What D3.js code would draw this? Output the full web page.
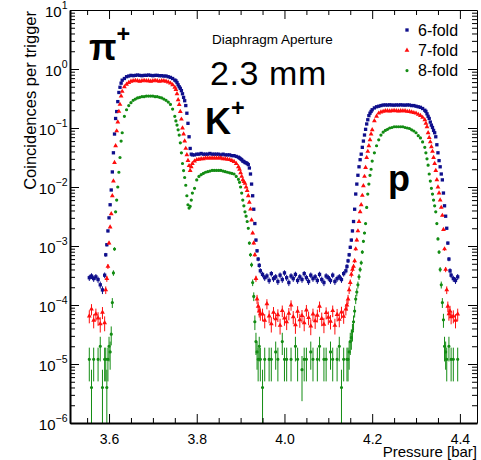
<!DOCTYPE html>
<html>
<head>
<meta charset="utf-8">
<script src="https://cdn.jsdelivr.net/npm/d3@7"></script>
<style>
  body { margin: 0; background: #fff; }
  svg { display: block; }
</style>
</head>
<body>
<svg id="chart" width="481" height="460"></svg>
<script>
// Pressure scan points [bar]; steps are finer on the steep Cherenkov edges.
const pressure = [
  3.555,3.560,3.565,3.570,3.575,3.580,3.585,3.590,
  3.5925,3.595,3.5975,3.600,3.6025,3.605,3.6075,3.610,3.6125,3.615,3.6175,3.620,3.6225,3.625,3.6275,3.630,
  3.635,3.640,3.645,3.650,3.655,3.660,3.665,3.670,3.675,3.680,3.685,3.690,3.695,3.700,3.705,3.710,3.715,3.720,3.725,3.730,3.735,3.740,3.745,3.750,
  3.7525,3.755,3.7575,3.760,3.7625,3.765,3.7675,3.770,3.7725,3.775,3.7775,3.780,3.7825,3.785,3.7875,3.790,
  3.795,3.800,3.805,3.810,3.815,3.820,3.825,3.830,3.835,3.840,3.845,3.850,3.855,3.860,3.865,3.870,3.875,3.880,3.885,3.890,3.895,
  3.8975,3.900,3.9025,3.905,3.9075,3.910,3.9125,3.915,3.9175,3.920,3.9225,3.925,3.9275,3.930,3.9325,3.935,3.9375,3.940,3.9425,3.945,
  3.950,3.955,3.960,3.965,3.970,3.975,3.980,3.985,3.990,3.995,4.000,4.005,4.010,4.015,4.020,4.025,4.030,4.035,4.040,4.045,
  4.050,4.055,4.060,4.065,4.070,4.075,4.080,4.085,4.090,4.095,4.100,4.105,4.110,4.115,4.120,4.125,4.130,4.135,4.140,
  4.1425,4.145,4.1475,4.150,4.1525,4.155,4.1575,4.160,4.1625,4.165,4.1675,4.170,4.1725,4.175,4.1775,4.180,4.1825,4.185,4.1875,4.190,4.1925,4.195,4.1975,4.200,
  4.205,4.210,4.215,4.220,4.225,4.230,4.235,4.240,4.245,4.250,4.255,4.260,4.265,4.270,4.275,4.280,4.285,4.290,4.295,4.300,4.305,4.310,4.315,4.320,
  4.3225,4.325,4.3275,4.330,4.3325,4.335,4.3375,4.340,4.3425,4.345,4.3475,4.350,4.3525,4.355,4.3575,4.360,4.3625,4.365,4.3675,4.370,4.3725,4.375,4.3775,4.380,
  4.385,4.390,4.395
];

// Coincidences per trigger, 6-fold
const sixFold = [
  2.9e-4,3.1e-4,2.8e-4,3.0e-4,2.7e-4,2.2e-4,1.8e-4,3.2e-4,
  7.1e-4,1.05e-3,1.8e-3,3.0e-3,5.0e-3,8.9e-3,0.018,0.038,0.079,0.145,0.19,0.28,0.40,0.49,0.575,0.646,
  0.69,0.74,0.76,0.78,0.77,0.78,0.79,0.78,0.77,0.78,0.78,0.79,0.78,0.77,0.78,0.78,0.77,0.77,0.76,0.76,0.74,0.72,0.69,0.65,
  0.63,0.59,0.54,0.50,0.47,0.43,0.38,0.33,0.29,0.24,0.178,0.12,0.071,0.045,0.036,0.035,
  0.035,0.036,0.036,0.037,0.036,0.036,0.036,0.037,0.036,0.036,0.036,0.036,0.035,0.036,0.035,0.035,0.035,0.034,0.034,0.033,0.032,
  0.031,0.030,0.029,0.0275,0.027,0.026,0.0257,0.025,0.024,0.021,0.0166,0.0112,0.0071,0.0042,0.0024,0.00126,8.3e-4,6.0e-4,4.7e-4,3.8e-4,
  3.3e-4,2.9e-4,3.1e-4,2.6e-4,3.4e-4,2.8e-4,3.0e-4,2.5e-4,3.2e-4,2.7e-4,3.5e-4,2.9e-4,2.4e-4,3.1e-4,2.8e-4,3.3e-4,2.6e-4,3.0e-4,2.7e-4,3.4e-4,
  2.9e-4,2.5e-4,3.2e-4,2.8e-4,3.0e-4,2.6e-4,3.3e-4,2.7e-4,2.4e-4,3.1e-4,2.9e-4,2.6e-4,3.2e-4,2.5e-4,2.8e-4,3.0e-4,2.7e-4,3.4e-4,3.8e-4,
  4.5e-4,5.6e-4,7.1e-4,9.5e-4,1.26e-3,1.8e-3,2.6e-3,4.2e-3,7.6e-3,0.0112,0.0158,0.022,0.029,0.036,0.047,0.060,0.076,0.095,0.117,0.138,0.162,0.178,0.191,0.204,
  0.219,0.229,0.234,0.240,0.245,0.246,0.245,0.247,0.245,0.244,0.246,0.245,0.247,0.245,0.244,0.246,0.245,0.240,0.240,0.234,0.229,0.224,0.214,0.200,
  0.191,0.174,0.158,0.145,0.126,0.112,0.102,0.091,0.083,0.071,0.052,0.038,0.028,0.022,0.0166,0.0132,7.9e-3,4.8e-3,3.2e-3,2.0e-3,1.12e-3,6.0e-4,3.8e-4,3.2e-4,
  2.8e-4,2.6e-4,3.0e-4
];

// Coincidences per trigger, 7-fold
const sevenFold = [
  6.5e-5,8.5e-5,5.5e-5,7.0e-5,6.0e-5,4.8e-5,7.5e-5,5.0e-5,
  1.8e-4,2.8e-4,4.5e-4,1.12e-3,2.1e-3,3.5e-3,7.1e-3,0.0126,0.026,0.050,0.089,0.126,0.191,0.251,0.347,0.417,
  0.50,0.55,0.59,0.62,0.63,0.64,0.63,0.62,0.63,0.64,0.63,0.63,0.62,0.63,0.64,0.63,0.62,0.63,0.63,0.62,0.60,0.575,0.54,0.49,
  0.447,0.38,0.30,0.25,0.19,0.141,0.100,0.079,0.060,0.045,0.035,0.028,0.023,0.019,0.022,0.025,
  0.0275,0.029,0.0295,0.030,0.030,0.031,0.031,0.031,0.031,0.031,0.031,0.031,0.031,0.030,0.030,0.0295,0.029,0.028,0.027,0.025,0.022,
  0.020,0.0174,0.0151,0.0132,0.0123,0.0115,0.0100,0.0087,0.0071,0.0055,0.0042,0.00275,0.00166,0.00112,7.1e-4,2.8e-4,1.26e-4,9.5e-5,7.9e-5,7.1e-5,
  7.0e-5,5.5e-5,1.05e-4,6.5e-5,4.8e-5,7.5e-5,5.8e-5,6.8e-5,4.5e-5,8.0e-5,6.0e-5,5.2e-5,7.2e-5,1.0e-4,6.3e-5,4.6e-5,7.8e-5,5.6e-5,6.6e-5,5.0e-5,
  8.2e-5,6.1e-5,4.4e-5,7.0e-5,5.4e-5,6.7e-5,9.5e-5,5.9e-5,4.7e-5,7.4e-5,6.2e-5,5.3e-5,8.0e-5,4.5e-5,6.9e-5,5.7e-5,7.6e-5,6.4e-5,8.5e-5,
  1.0e-4,1.26e-4,1.8e-4,2.4e-4,3.3e-4,4.0e-4,4.5e-4,5.6e-4,8.9e-4,1.26e-3,1.8e-3,2.6e-3,3.8e-3,5.0e-3,7.2e-3,0.0105,0.0151,0.0214,0.0316,0.040,0.050,0.063,0.079,0.093,
  0.132,0.158,0.178,0.186,0.191,0.195,0.196,0.194,0.195,0.197,0.195,0.194,0.196,0.195,0.195,0.191,0.190,0.186,0.182,0.178,0.170,0.162,0.151,0.138,
  0.120,0.105,0.083,0.069,0.058,0.048,0.040,0.0316,0.025,0.019,0.0132,0.0100,0.0079,0.0060,0.0045,0.0033,0.0019,8.9e-4,4.0e-4,1.8e-4,9.5e-5,7.1e-5,7.9e-5,6.3e-5,
  6.5e-5,5.5e-5,7.0e-5
];

// Coincidences per trigger, 8-fold (0 = no coincidence recorded at that point)
const eightFold = [
  1.2e-5,4e-6,1.2e-5,0,1.2e-5,2.0e-5,4e-6,1.2e-5,
  1.2e-5,4e-6,1.2e-5,2.0e-5,1.6e-5,3.2e-5,1.1e-4,3.5e-4,8.9e-4,3.8e-3,6.0e-3,0.010,0.0178,0.0316,0.060,0.083,
  0.158,0.204,0.240,0.269,0.295,0.309,0.324,0.331,0.339,0.339,0.347,0.347,0.347,0.347,0.339,0.339,0.331,0.324,0.309,0.295,0.275,0.251,0.209,0.158,
  0.132,0.112,0.093,0.076,0.056,0.038,0.025,0.019,0.0145,0.0107,0.0071,0.0050,0.0044,0.0047,0.0060,0.0079,
  0.0095,0.0132,0.0151,0.0162,0.0170,0.0178,0.0182,0.0186,0.0191,0.0191,0.0191,0.0191,0.0191,0.0186,0.0182,0.0178,0.0174,0.0170,0.0166,0.0151,0.0135,
  0.0120,0.0100,0.0079,0.0060,0.0048,0.0038,0.0032,0.0026,0.0020,0.00112,7.1e-4,4.8e-4,2.4e-4,1.4e-4,5.2e-5,2.4e-5,1.6e-5,1.2e-5,2.0e-5,1.2e-5,
  4e-6,1.2e-5,0,1.2e-5,1.2e-5,0,1.6e-5,1.2e-5,0,2.4e-5,1.2e-5,1.2e-5,0,1.2e-5,0,2.0e-5,1.2e-5,0,8e-6,1.2e-5,
  1.2e-5,0,1.6e-5,1.2e-5,0,1.2e-5,2.0e-5,0,1.2e-5,1.2e-5,0,1.6e-5,1.2e-5,0,1.2e-5,2.0e-5,4e-6,1.2e-5,0,
  1.2e-5,1.2e-5,1.6e-5,2.4e-5,2.8e-5,3.6e-5,5.2e-5,7.9e-5,1.26e-4,1.66e-4,2.2e-4,3.0e-4,4.0e-4,5.2e-4,7.9e-4,1.2e-3,1.66e-3,2.4e-3,4.5e-3,7.6e-3,0.0112,0.0158,0.020,0.0275,
  0.038,0.050,0.063,0.076,0.085,0.091,0.095,0.100,0.102,0.105,0.105,0.105,0.105,0.105,0.102,0.100,0.098,0.093,0.089,0.083,0.074,0.068,0.058,0.047,
  0.038,0.030,0.0234,0.0166,0.0126,0.0095,0.0076,0.0060,0.0048,0.0038,0.0024,0.00132,7.9e-4,4.0e-4,2.2e-4,1.1e-4,5.6e-5,2.0e-5,1.6e-5,1.2e-5,0,2.0e-5,0,1.2e-5,
  1.2e-5,0,1.2e-5
];

const seriesNames = ["6-fold", "7-fold", "8-fold"];
const xTickValues = [3.6, 3.8, 4.0, 4.2, 4.4];
const xMinorValues = [3.55, 3.65, 3.70, 3.75, 3.85, 3.90, 3.95, 4.05, 4.10, 4.15, 4.25, 4.30, 4.35];
const yDecades = [-6, -5, -4, -3, -2, -1, 0, 1];
const triggers = 250000;   // triggers recorded per pressure point
const halfStep = 0.0025;   // horizontal error: half the nominal pressure step

const FONT = '"Liberation Sans", Arial, Helvetica, sans-serif';
const frame = { left: 70, right: 477, top: 10, bottom: 423 };

const svg = d3.select("#chart").attr("font-family", FONT);

const x = d3.scaleLinear().domain([3.511, 4.439]).range([frame.left, frame.right]);
const y = d3.scaleLog().domain([1e-6, 10]).range([frame.bottom, frame.top]);

svg.append("defs").append("clipPath").attr("id", "plot-clip")
  .append("rect")
  .attr("x", frame.left).attr("y", frame.top)
  .attr("width", frame.right - frame.left).attr("height", frame.bottom - frame.top);

const series = [
  { name: seriesNames[0], values: sixFold,   color: "#0f0f8c", symbol: d3.symbolSquare,   size: 11 },
  { name: seriesNames[1], values: sevenFold, color: "#ff0d0d", symbol: d3.symbolTriangle, size: 10 },
  { name: seriesNames[2], values: eightFold, color: "#138c13", symbol: d3.symbolCircle,   size: 8 }
];

// ---- data: Poisson error bars, then markers ----
const plot = svg.append("g").attr("clip-path", "url(#plot-clip)");

series.forEach(s => {
  const pts = pressure.map((p, i) => ({ p, v: s.values[i] })).filter(d => d.v != null && d.v > 0);
  const g = plot.append("g").attr("class", "series");

  const err = d => Math.sqrt(d.v * triggers) / triggers;
  g.append("path")
    .attr("fill", "none")
    .attr("stroke", s.color)
    .attr("stroke-width", 1)
    .attr("d", pts.map(d => {
      const e = err(d);
      const lo = d.v - e;
      const yLo = lo > 0 ? y(lo) : frame.bottom;
      const yHi = y(d.v + e);
      const cx = x(d.p), cy = y(d.v);
      return `M${cx},${yLo}V${yHi}M${x(d.p - halfStep)},${cy}H${x(d.p + halfStep)}`;
    }).join(""));

  const marker = d3.symbol().type(s.symbol).size(s.size)();
  g.selectAll("path.pt").data(pts).join("path")
    .attr("class", "pt")
    .attr("d", marker)
    .attr("fill", s.color)
    .attr("transform", d => `translate(${x(d.p)},${y(d.v)})`);
});

// ---- axes ----
function styleAxis(g) {
  g.attr("font-family", FONT).attr("font-size", 14);
  g.selectAll(".tick line").attr("stroke", "#000").attr("stroke-width", 1);
}

// bottom
const gx = svg.append("g").attr("transform", `translate(0,${frame.bottom})`)
  .call(d3.axisBottom(x).tickValues(xTickValues).tickSizeInner(-9).tickSizeOuter(0)
    .tickPadding(11).tickFormat(d3.format(".1f")));
styleAxis(gx);
gx.select(".domain").attr("stroke-width", 2);
svg.append("g").attr("transform", `translate(0,${frame.bottom})`)
  .call(d3.axisBottom(x).tickValues(xMinorValues).tickSizeInner(-5).tickSizeOuter(0).tickFormat(""))
  .call(g => { g.select(".domain").remove(); styleAxis(g); });

// top
svg.append("g").attr("transform", `translate(0,${frame.top})`)
  .call(d3.axisTop(x).tickValues(xTickValues).tickSizeInner(-9).tickSizeOuter(0).tickFormat(""))
  .call(g => { styleAxis(g); g.select(".domain").attr("stroke-width", 1); });
svg.append("g").attr("transform", `translate(0,${frame.top})`)
  .call(d3.axisTop(x).tickValues(xMinorValues).tickSizeInner(-5).tickSizeOuter(0).tickFormat(""))
  .call(g => { g.select(".domain").remove(); styleAxis(g); });

// log minor ticks 2..9 per decade
const yMinorValues = [];
yDecades.slice(0, -1).forEach(e => { for (let k = 2; k <= 9; k++) yMinorValues.push(k * Math.pow(10, e)); });
const yMajorValues = yDecades.map(e => Math.pow(10, e));

// left
const gy = svg.append("g").attr("transform", `translate(${frame.left},0)`)
  .call(d3.axisLeft(y).tickValues(yMajorValues).tickSizeInner(-9).tickSizeOuter(0).tickPadding(2.5));
styleAxis(gy);
gy.select(".domain").attr("stroke-width", 2);
gy.selectAll(".tick text").each(function (d, i) {
  const e = yDecades[i];
  const t = d3.select(this).text(null)
    .attr("x", -2.5).attr("dy", null).attr("y", 6)
    .attr("font-size", 15).attr("text-anchor", "end");
  t.append("tspan").text("10");
  t.append("tspan").attr("dy", -8).attr("font-size", 10.5).text(e < 0 ? "\u2212" + (-e) : String(e));
});
svg.append("g").attr("transform", `translate(${frame.left},0)`)
  .call(d3.axisLeft(y).tickValues(yMinorValues).tickSizeInner(-5).tickSizeOuter(0).tickFormat(""))
  .call(g => { g.select(".domain").remove(); styleAxis(g); });

// right
svg.append("g").attr("transform", `translate(${frame.right},0)`)
  .call(d3.axisRight(y).tickValues(yMajorValues).tickSizeInner(-9).tickSizeOuter(0).tickFormat(""))
  .call(g => { styleAxis(g); g.select(".domain").attr("stroke-width", 1); });
svg.append("g").attr("transform", `translate(${frame.right},0)`)
  .call(d3.axisRight(y).tickValues(yMinorValues).tickSizeInner(-5).tickSizeOuter(0).tickFormat(""))
  .call(g => { g.select(".domain").remove(); styleAxis(g); });

// ---- axis titles ----
svg.append("text")
  .attr("transform", `translate(36,11) rotate(-90)`)
  .attr("text-anchor", "end")
  .attr("font-size", 16.5)
  .text("Coincidences per trigger");

svg.append("text")
  .attr("x", frame.right).attr("y", 457)
  .attr("text-anchor", "end")
  .attr("font-size", 15)
  .text("Pressure [bar]");

// ---- annotations ----
svg.append("text").attr("x", 212).attr("y", 43.5).attr("font-size", 13.5).text("Diaphragm Aperture");
svg.append("text").attr("x", 210).attr("y", 85).attr("font-size", 34).attr("letter-spacing", 0.6).text("2.3 mm");

function particle(label, sup, px, py, size) {
  const t = svg.append("text").attr("x", px).attr("y", py)
    .attr("font-size", size).attr("font-weight", "bold");
  t.append("tspan").text(label);
  if (sup) t.append("tspan").attr("dy", -0.5 * size).attr("font-size", size * 0.65).text(sup);
}
particle("\u03c0", "+", 89, 60, 36);
particle("K", "+", 205, 134, 36);
particle("p", null, 388, 191, 36);

// ---- legend ----
const legend = svg.append("g");
series.forEach((s, i) => {
  const ly = 30 + i * 20.3;
  legend.append("path")
    .attr("d", d3.symbol().type(s.symbol).size(s.size)())
    .attr("fill", s.color)
    .attr("transform", `translate(407,${ly})`);
  legend.append("text")
    .attr("x", 418).attr("y", ly + 5.5)
    .attr("font-size", 16)
    .text(s.name);
});
</script>
</body>
</html>
